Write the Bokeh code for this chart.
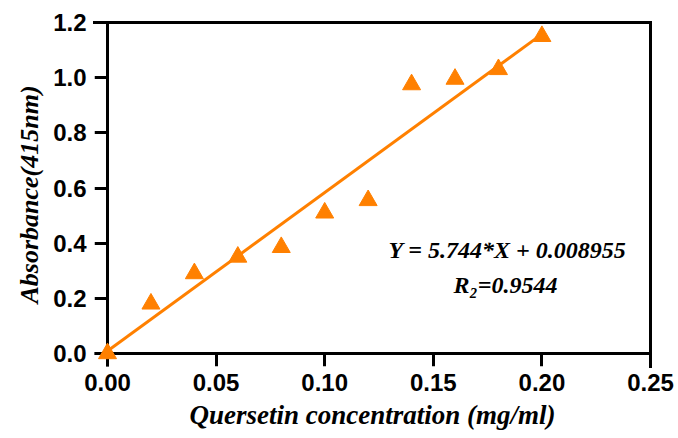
from bokeh.plotting import figure
from bokeh.models import FixedTicker, Range1d, Label, ColumnDataSource, LinearAxis
from bokeh.embed import file_html
from bokeh.resources import INLINE

# Calibration data: quercetin standard curve
concentration = [0.00, 0.02, 0.04, 0.06, 0.08, 0.10, 0.12, 0.14, 0.16, 0.18, 0.20]
absorbance = [0.00, 0.18, 0.29, 0.35, 0.385, 0.51, 0.555, 0.975, 0.995, 1.03, 1.15]

# Linear fit parameters
slope = 5.744
intercept = 0.008955
r_squared = 0.9544

x_ticks = [0.00, 0.05, 0.10, 0.15, 0.20, 0.25]
y_ticks = [0.0, 0.2, 0.4, 0.6, 0.8, 1.0, 1.2]
x_max = 0.25
y_max = 1.2

ORANGE = "#FF8000"
TICK = 13

# The frame reaches TICK pixels past the origin so that the marker at (0, 0)
# is drawn whole; the axis lines and ticks are pinned at zero.
W, H = 678, 438
BL, BR, BT, BB = 94, 28, 22, 72
fw = W - BL - BR
fh = H - BT - BB
x_start = -x_max * TICK / (fw - TICK)
y_start = -y_max * TICK / (fh - TICK)

p = figure(width=W, height=H, output_backend="svg", toolbar_location=None,
           x_range=Range1d(x_start, x_max), y_range=Range1d(y_start, y_max),
           min_border_left=BL, min_border_right=BR, min_border_top=BT, min_border_bottom=BB)

p.background_fill_color = "white"
p.border_fill_color = "white"
p.grid.visible = False
p.outline_line_color = None

# fitted line over the measured range
fit_x = [concentration[0], concentration[-1]]
fit_y = [slope * v + intercept for v in fit_x]
p.line(fit_x, fit_y, line_color=ORANGE, line_width=3, level="overlay")

src = ColumnDataSource(dict(x=concentration, y=absorbance))
p.scatter("x", "y", source=src, marker="triangle", size=18,
          fill_color=ORANGE, line_color=ORANGE, level="overlay")

# left / below axes: tick labels and titles only
xlab = p.xaxis[0]
ylab = p.yaxis[0]
for ax in (xlab, ylab):
    ax.axis_line_color = None
    ax.major_tick_line_color = None
    ax.minor_tick_line_color = None
    ax.major_tick_out = 0
    ax.major_tick_in = 0
    ax.minor_tick_out = 0
    ax.major_label_text_font = "Liberation Sans"
    ax.major_label_text_font_style = "bold"
    ax.major_label_text_font_size = "24px"
    ax.major_label_text_color = "black"
    ax.axis_label_text_font = "Liberation Serif"
    ax.axis_label_text_font_style = "bold italic"
    ax.axis_label_text_color = "black"

xlab.ticker = FixedTicker(ticks=x_ticks)
ylab.ticker = FixedTicker(ticks=y_ticks)
xlab.major_label_overrides = {t: f"{t:.2f}" for t in x_ticks}
ylab.major_label_overrides = {t: f"{t:.1f}" for t in y_ticks}
xlab.major_label_standoff = 7
ylab.major_label_standoff = 8
xlab.axis_label = "Quersetin concentration (mg/ml)"
ylab.axis_label = "Absorbance(415nm)"
xlab.axis_label_text_font_size = "27px"
ylab.axis_label_text_font_size = "26px"
xlab.axis_label_standoff = 6
ylab.axis_label_standoff = 6

# top and right frame lines
for side in ("above", "right"):
    border = LinearAxis(ticker=FixedTicker(ticks=[]), axis_line_width=3,
                        axis_line_color="black", axis_line_cap="square",
                        major_tick_line_color=None, minor_tick_line_color=None,
                        major_tick_out=0, major_tick_in=0,
                        minor_tick_out=0, minor_tick_in=0,
                        major_label_text_color=None, major_label_standoff=0)
    p.add_layout(border, side)

# axis lines with outward ticks, pinned at zero
for side, ticks in (("above", x_ticks), ("right", y_ticks)):
    pinned = LinearAxis(ticker=FixedTicker(ticks=ticks), fixed_location=0,
                        axis_line_width=3, axis_line_color="black",
                        axis_line_cap="square",
                        major_tick_line_width=3, major_tick_line_color="black",
                        major_tick_in=TICK, major_tick_out=0,
                        minor_tick_line_color=None, minor_tick_out=0, minor_tick_in=0,
                        major_label_overrides={t: "" for t in ticks},
                        major_label_text_font_size="1px",
                        major_label_text_color=None, major_label_standoff=0)
    p.add_layout(pinned, side)

eq = Label(x=0.1842, y=0.377, text=f"Y = {slope}*X + {intercept}",
           text_font="Liberation Serif", text_font_style="bold italic",
           text_font_size="24px", text_align="center", text_baseline="middle",
           text_color="black")
r2 = Label(x=0.1832, y=0.25, text=f"R\u2082={r_squared}",
           text_font="Liberation Serif", text_font_style="bold italic",
           text_font_size="24px", text_align="center", text_baseline="middle",
           text_color="black")
p.add_layout(eq)
p.add_layout(r2)

open("out.html", "w").write(file_html(p, INLINE))
